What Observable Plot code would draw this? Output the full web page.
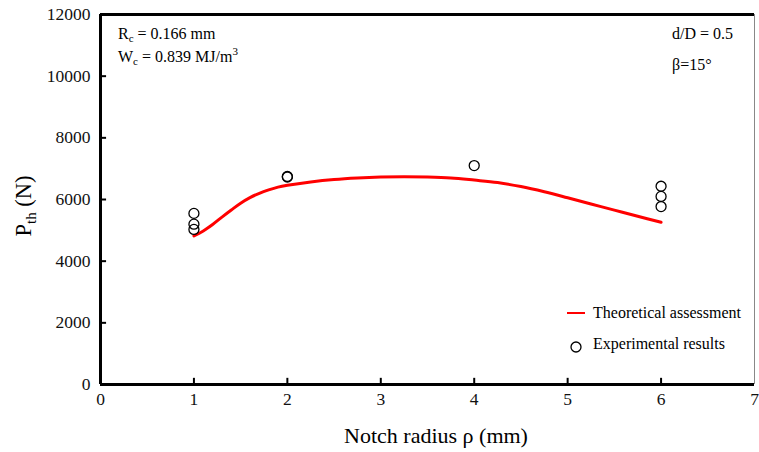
<!DOCTYPE html>
<html>
<head>
<meta charset="utf-8">
<script src="https://cdn.jsdelivr.net/npm/d3@7"></script>
<script src="https://cdn.jsdelivr.net/npm/@observablehq/plot@0.6"></script>
<style>
  html, body { margin: 0; padding: 0; background: #fff; }
  #chart svg { display: block; }
  #chart svg text, #chart svg tspan { font-family: "Liberation Serif", "Times New Roman", serif !important; font-variant-numeric: normal !important; }
</style>
</head>
<body>
<div id="chart"></div>
<script>
// Theoretical assessment curve
const theoryX = [1.0, 1.1, 1.2, 1.3, 1.4, 1.5, 1.6, 1.7, 1.8, 1.9, 2.0, 2.25, 2.5, 2.75, 3.0, 3.25, 3.5, 3.75, 4.0, 4.25, 4.5, 4.75, 5.0, 5.25, 5.5, 5.75, 6.0];
const theoryY = [4820, 4980, 5190, 5430, 5660, 5880, 6060, 6200, 6310, 6400, 6460, 6570, 6650, 6700, 6730, 6740, 6730, 6700, 6630, 6550, 6420, 6250, 6055, 5855, 5655, 5455, 5260];
// Experimental results
const expX = [1, 1, 1, 2, 2, 4, 6, 6, 6];
const expY = [5550, 5200, 5030, 6750, 6730, 7100, 6430, 6100, 5770];
// Ticks
const xTicks = [0, 1, 2, 3, 4, 5, 6, 7];
const yTicks = [0, 2000, 4000, 6000, 8000, 10000, 12000];

const theory = theoryX.map((x, i) => ({x, y: theoryY[i]}));
const exp = expX.map((x, i) => ({x, y: expY[i]}));

const font = "Liberation Serif, Times New Roman, serif";

const plot = Plot.plot({
  width: 759,
  height: 452,
  marginLeft: 100,
  marginRight: 5,
  marginTop: 14,
  marginBottom: 68,
  style: {fontFamily: font, fontSize: "17px", color: "#111", background: "#fff"},
  x: {domain: [0, 7]},
  y: {domain: [0, 12000]},
  marks: [
    Plot.ruleX([7], {stroke: "#888", strokeWidth: 1}),
    Plot.ruleY([12000], {stroke: "#000", strokeWidth: 3}),
    Plot.ruleX(xTicks.filter(d => d > 0 && d < 7), {y1: 0, y2: 200, stroke: "#000", strokeWidth: 2}),
    Plot.ruleY(yTicks.filter(d => d > 0 && d < 12000), {x1: 0, x2: 0.065, stroke: "#000", strokeWidth: 2}),
    Plot.axisX({ticks: xTicks, tickSize: 0, tickPadding: 8, tickFormat: d => String(d), label: null, fontSize: 17.5, fontFamily: font}),
    Plot.axisY({ticks: yTicks, tickSize: 0, tickPadding: 10, tickFormat: d3.format("d"), label: null, fontSize: 17.5, fontFamily: font}),
    Plot.line(theory, {x: "x", y: "y", stroke: "#f00", strokeWidth: 3, curve: "catmull-rom"}),
    Plot.dot(exp, {x: "x", y: "y", r: 5, stroke: "#000", strokeWidth: 1.3, fill: "none"}),
    Plot.ruleX([0], {stroke: "#000", strokeWidth: 3}),
    Plot.ruleY([0], {stroke: "#000", strokeWidth: 3})
  ]
});

document.getElementById("chart").appendChild(plot);

const svg = d3.select(plot);
const g = svg.append("g").attr("fill", "#000").attr("text-anchor", "start");

// Axis titles
g.append("text").attr("x", 436).attr("y", 443).attr("text-anchor", "middle")
  .attr("font-size", 22).text("Notch radius ρ (mm)");

const yl = g.append("text").attr("transform", "translate(31,206) rotate(-90)")
  .attr("text-anchor", "middle").attr("font-size", 22.5);
yl.append("tspan").text("P");
yl.append("tspan").attr("font-size", 15).attr("dy", 5).text("th");
yl.append("tspan").attr("dy", -5).text(" (N)");

// Annotations
const a1 = g.append("text").attr("x", 118).attr("y", 39).attr("font-size", 16);
a1.append("tspan").text("R");
a1.append("tspan").attr("font-size", 11).attr("dy", 3).text("c");
a1.append("tspan").attr("dy", -3).text(" = 0.166 mm");

const a2 = g.append("text").attr("x", 118).attr("y", 62).attr("font-size", 16);
a2.append("tspan").text("W");
a2.append("tspan").attr("font-size", 11).attr("dy", 3).text("c");
a2.append("tspan").attr("dy", -3).text(" = 0.839 MJ/m");
a2.append("tspan").attr("font-size", 11).attr("dy", -7).text("3");

g.append("text").attr("x", 672).attr("y", 39).attr("font-size", 16).text("d/D = 0.5");
g.append("text").attr("x", 672).attr("y", 70).attr("font-size", 16).text("β=15°");

// Legend
g.append("line").attr("x1", 567).attr("x2", 585).attr("y1", 313).attr("y2", 313)
  .attr("stroke", "#f00").attr("stroke-width", 2);
g.append("text").attr("x", 593).attr("y", 318).attr("font-size", 16).text("Theoretical assessment");
g.append("circle").attr("cx", 576).attr("cy", 347).attr("r", 5)
  .attr("fill", "none").attr("stroke", "#000").attr("stroke-width", 1.3);
g.append("text").attr("x", 593).attr("y", 349).attr("font-size", 16).text("Experimental results");
</script>
</body>
</html>
